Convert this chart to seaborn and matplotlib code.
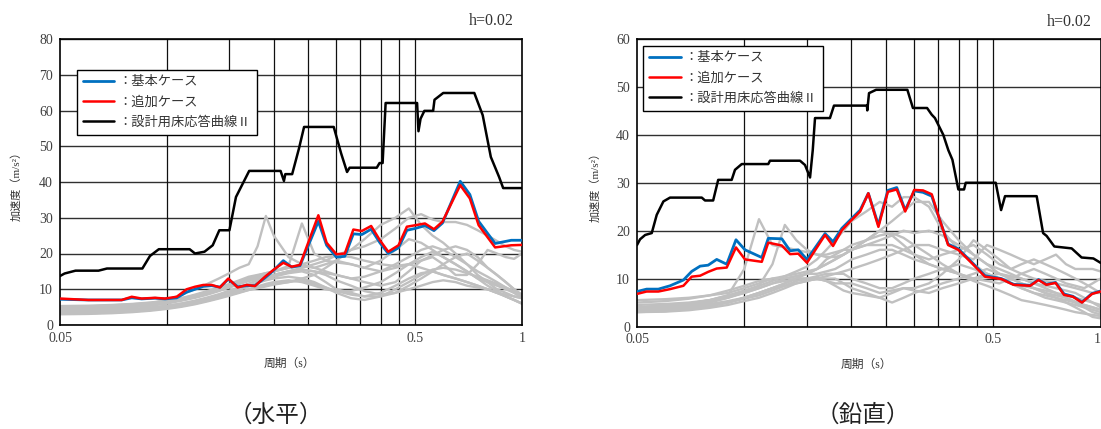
import numpy as np
import pandas as pd
import matplotlib
matplotlib.use("Agg")
import matplotlib.pyplot as plt
from matplotlib.ticker import NullLocator, FixedLocator, FixedFormatter
import seaborn as sns

sns.set_style("white")
plt.rcParams['font.family'] = ['Liberation Serif', 'Noto Sans CJK JP', 'DejaVu Sans']

# ---------------- common ----------------
grid_periods = [0.10, 0.15, 0.20, 0.25, 0.30, 0.35, 0.40, 0.45, 0.50]
x_ticks = [0.05, 0.5, 1.0]
x_tick_labels = ["0.05", "0.5", "1"]
legend_labels = ["：基本ケース", "：追加ケース", "：設計用床応答曲線Ⅱ"]

# period grid for the gray (other) cases
G = [0.05, 0.06, 0.07, 0.08, 0.09, 0.10, 0.11, 0.12, 0.13, 0.14, 0.15, 0.16, 0.17, 0.18, 0.19,
     0.20, 0.22, 0.24, 0.26, 0.28, 0.30, 0.33, 0.36, 0.40, 0.44, 0.48, 0.52, 0.56, 0.60, 0.65,
     0.70, 0.75, 0.80, 0.85, 0.90, 0.95, 1.00]

# ---------------- horizontal (水平) ----------------
h_black_T = [0.05, 0.0515, 0.0553, 0.0642, 0.0678, 0.0853, 0.0896, 0.0949, 0.1159, 0.120, 0.1276,
             0.1346, 0.1405, 0.150, 0.1565, 0.1705, 0.209, 0.2136, 0.2155, 0.2253, 0.2355, 0.2434,
             0.295, 0.3095, 0.3216, 0.327, 0.39, 0.397, 0.405, 0.413, 0.5065, 0.511, 0.518, 0.531,
             0.562, 0.567, 0.60, 0.734, 0.775, 0.817, 0.862, 0.885, 1.0]
h_black_v = [13.7, 14.4, 15.2, 15.2, 15.8, 15.8, 19.3, 21.2, 21.2, 20.0, 20.5,
             22.3, 26.5, 26.5, 35.8, 43.1, 43.1, 40.3, 42.2, 42.2, 49.4, 55.4,
             55.4, 48.0, 42.8, 44.0, 44.0, 45.3, 45.3, 62.1, 62.1, 54.2, 57.7, 59.9,
             59.9, 63.0, 64.9, 64.9, 58.7, 47.0, 41.4, 38.3, 38.3]

h_case_T = [0.05, 0.0601, 0.0746, 0.0796, 0.0849, 0.0926, 0.0988, 0.1066, 0.1137, 0.120, 0.1266,
            0.1337, 0.1411, 0.1489, 0.1582, 0.1678, 0.177, 0.1889, 0.1994, 0.2127, 0.2246, 0.237,
            0.267, 0.2817, 0.30, 0.317, 0.335, 0.354, 0.376, 0.398, 0.42, 0.449, 0.474, 0.5,
            0.533, 0.565, 0.597, 0.67, 0.713, 0.755, 0.84, 0.933, 1.0]
h_red_v = [7.4, 7.0, 7.0, 7.9, 7.4, 7.6, 7.4, 7.9, 10.0, 10.7, 11.2,
           11.2, 10.5, 13.0, 10.5, 11.2, 10.9, 13.5, 15.4, 17.4, 16.3, 16.8,
           30.7, 23.0, 19.8, 20.0, 26.7, 26.3, 27.7, 23.7, 20.5, 22.3, 27.5, 27.9,
           28.4, 26.8, 28.9, 39.1, 35.4, 27.9, 21.7, 22.3, 22.4]
h_blue_v = [7.2, 7.0, 7.0, 7.6, 7.3, 7.5, 7.3, 7.6, 9.2, 10.0, 10.8,
            11.0, 10.6, 12.8, 10.7, 11.0, 11.0, 13.2, 15.2, 18.0, 16.2, 16.6,
            29.0, 22.3, 19.0, 19.2, 25.5, 25.3, 26.8, 23.0, 20.0, 21.6, 26.5, 27.0,
            27.8, 26.4, 28.5, 40.2, 36.5, 29.0, 22.8, 23.7, 23.7]

h_gray = [
    [4.5, 4.7, 5.0, 5.4, 6.0, 7.0, 8.5, 10, 11.5, 13, 14.5, 16, 17, 22, 30.5, 25, 19, 17, 16, 17,
     18, 17, 16, 15, 16, 17, 16, 15, 14, 13, 12, 11, 10, 9, 8.5, 8, 7.5],
    [5.0, 5.2, 5.5, 5.8, 6.2, 6.8, 7.5, 8.5, 9.5, 10.5, 11.5, 12.5, 13.5, 14, 14.5, 15, 16.5, 28.4, 20, 18,
     17.5, 17, 16, 18, 21, 24, 23, 21, 19, 17, 15, 13, 12, 11, 10, 9, 8],
    [3.5, 3.6, 3.8, 4.1, 4.5, 5.0, 5.6, 6.3, 7.0, 7.8, 8.5, 9.2, 9.8, 10.3, 10.8, 11.3, 12, 13, 14, 16,
     18, 21, 24, 28, 30, 32.6, 28, 25, 23, 20, 17, 14, 12, 10, 9, 8, 7.5],
    [4.2, 4.4, 4.7, 5.0, 5.4, 6.0, 6.8, 7.6, 8.5, 9.5, 10.5, 11.5, 12.3, 13, 13.5, 14, 15, 16, 17, 18,
     19.5, 21, 22, 24, 27, 30, 31, 29.5, 28.8, 28.8, 28, 26.5, 25, 23.5, 22, 21, 20.5],
    [4.6, 4.8, 5.1, 5.5, 6.0, 6.6, 7.3, 8.2, 9.2, 10.2, 11, 11.8, 12.5, 13, 13.5, 14, 15, 15.5, 15, 14.5,
     14, 13, 12, 11, 12, 15, 18, 19, 17, 14, 14, 17, 21, 20, 19, 18.5, 20],
    [3.0, 3.1, 3.3, 3.6, 4.0, 4.5, 5.1, 5.8, 6.6, 7.4, 8.2, 9, 9.8, 10.5, 11, 11.5, 12, 12.5, 11.5, 10.5,
     9.5, 8.5, 8, 9, 11, 13, 14.5, 15, 14, 13, 12, 11, 10, 9, 8, 7, 6],
    [5.3, 5.4, 5.6, 5.9, 6.3, 6.8, 7.5, 8.3, 9.2, 10.2, 11.2, 12.2, 13, 13.8, 14.5, 15, 16, 17, 18, 19,
     19.5, 19, 18, 17, 16.5, 17, 18, 19.5, 21, 22, 21, 19, 16, 14, 12, 10, 8.5],
    [4.0, 4.1, 4.3, 4.5, 4.9, 5.4, 6, 6.7, 7.5, 8.4, 9.3, 10.2, 11, 11.8, 12.5, 13, 13.5, 13, 12, 10.5,
     9, 7.5, 7, 8, 10, 12, 14, 15.5, 16, 15.5, 14.5, 13.5, 12.5, 11.5, 10.5, 9.5, 8],
    [3.8, 3.9, 4.1, 4.4, 4.8, 5.3, 6, 6.8, 7.7, 8.6, 9.6, 10.6, 11.6, 12.5, 13.3, 14, 15, 15.5, 15, 14,
     12.5, 11, 9.5, 8.5, 9, 11, 13, 15, 17, 19, 20, 18, 16, 14, 12, 10, 8],
    [3.2, 3.3, 3.5, 3.8, 4.2, 4.7, 5.3, 6, 6.8, 7.6, 8.4, 9.2, 10, 10.8, 11.5, 12, 12.5, 12, 11, 10,
     9.5, 9.5, 10.5, 12, 14.5, 17, 19, 20.5, 19, 17, 15, 13, 11, 9.5, 8, 7, 6],
    [4.8, 5.0, 5.2, 5.5, 5.9, 6.4, 7, 7.8, 8.7, 9.6, 10.6, 11.6, 12.6, 13.5, 14.2, 15, 16, 16.5, 16, 15,
     14, 13, 13.5, 15, 17, 19, 21, 22, 21, 19, 17, 15, 13.5, 12, 10.5, 9, 7.5],
    [3.4, 3.5, 3.7, 4, 4.4, 4.9, 5.5, 6.2, 7, 7.9, 8.8, 9.8, 10.8, 11.8, 12.8, 13.5, 14.5, 15, 14, 12,
     10, 9, 8, 8, 9, 10, 11, 12, 12.5, 12, 11, 10.5, 10, 9, 8, 7, 6],
]

# ---------------- vertical (鉛直) ----------------
v_black_T = [0.05, 0.051, 0.0527, 0.055, 0.0568, 0.0593, 0.0619, 0.076, 0.0776, 0.0818, 0.0845,
             0.0922, 0.0942, 0.0984, 0.1168, 0.1181, 0.1434, 0.1481, 0.153, 0.1557, 0.158, 0.174,
             0.1786, 0.221, 0.2215, 0.224, 0.2345, 0.287, 0.2975, 0.326, 0.336, 0.343, 0.362,
             0.374, 0.384, 0.399, 0.414, 0.4185, 0.508, 0.526, 0.5395, 0.662, 0.69, 0.706,
             0.742, 0.83, 0.885, 0.955, 1.0]
v_black_v = [17.0, 18.2, 19.1, 19.5, 23.3, 26.1, 26.9, 26.9, 26.3, 26.3, 30.6,
             30.6, 32.7, 33.9, 33.9, 34.6, 34.6, 33.7, 31.1, 36.8, 43.5, 43.5,
             46.1, 46.1, 45.1, 48.7, 49.4, 49.4, 45.6, 45.6, 44.2, 43.5, 40.0,
             36.8, 34.8, 28.6, 28.6, 30.0, 30.0, 24.3, 27.2, 27.2, 19.5, 18.9,
             16.7, 16.3, 14.4, 14.2, 13.3]

v_case_T = [0.05, 0.0532, 0.0574, 0.0619, 0.0675, 0.0712, 0.0752, 0.0792, 0.0837, 0.0893, 0.0948,
            0.1005, 0.112, 0.1168, 0.1275, 0.1345, 0.1418, 0.15, 0.1686, 0.1775, 0.188, 0.2,
            0.2115, 0.223, 0.238, 0.253, 0.268, 0.283, 0.3, 0.3175, 0.336, 0.3525, 0.3735,
            0.399, 0.4355, 0.474, 0.527, 0.57, 0.635, 0.67, 0.705, 0.748, 0.79, 0.837,
            0.887, 0.947, 1.0]
v_red_v = [6.8, 7.3, 7.3, 7.8, 8.5, 10.4, 10.6, 11.4, 12.1, 12.3, 16.5,
           14.0, 13.5, 17.5, 16.9, 15.1, 15.2, 13.3, 19.1, 16.8, 20.1, 22.2,
           24.0, 27.8, 20.8, 28.1, 28.6, 24.0, 28.5, 28.4, 27.6, 22.6, 17.0,
           16.0, 13.2, 10.4, 9.9, 8.7, 8.5, 9.7, 8.7, 9.1, 6.6, 6.2,
           5.0, 6.8, 7.3]
v_blue_v = [7.3, 7.8, 7.8, 8.5, 9.7, 11.5, 12.6, 12.8, 14.0, 13.0, 18.1,
            16.0, 14.4, 18.4, 18.3, 15.8, 16.0, 14.0, 19.4, 17.7, 20.5, 22.5,
            24.3, 27.8, 21.2, 28.4, 29.0, 24.3, 28.3, 28.0, 27.2, 22.6, 17.2,
            16.2, 13.4, 10.6, 10.0, 8.8, 8.6, 9.8, 8.8, 9.2, 6.8, 6.3,
            5.1, 6.9, 7.4]

v_gray = [
    [4.0, 4.3, 4.8, 5.5, 6.5, 12, 22.4, 17, 16.5, 16, 15.5, 15, 15, 15.5, 16, 17, 18, 19, 19.5, 18.5,
     17, 15, 13, 11, 9.5, 8.5, 7.5, 6.5, 5.5, 5, 4.5, 4, 3.5, 3, 2.7, 2.4, 2.2],
    [3.5, 3.8, 4.3, 5, 6, 7.2, 8.5, 13, 21.2, 18, 16, 15, 14.5, 14.5, 15, 16, 18, 20, 19, 17,
     15, 13, 12, 11, 10, 10.5, 11, 10.5, 10, 9, 8, 7, 6, 5.2, 4.5, 4, 3.5],
    [4, 4.3, 4.8, 5.5, 6.5, 7.5, 8.5, 9.5, 10.5, 11.5, 12.5, 14, 16, 18, 20, 22, 24, 26, 25, 27,
     27, 25, 20, 16, 13, 11, 10, 9, 8.5, 8, 7.5, 7, 6.5, 6, 5.5, 5, 4.5],
    [3.2, 3.4, 3.8, 4.4, 5, 6, 7, 8, 9, 10, 11, 12, 13, 14, 15, 16, 18, 20, 22, 24,
     26, 26, 22, 18, 15, 13, 11, 10, 9, 8, 7, 6.5, 6, 5, 4, 3, 2.5],
    [5, 5.3, 5.8, 6.5, 7.5, 8.5, 9.5, 10, 10, 10.5, 11, 12, 13, 14, 15, 16, 17, 18, 19, 20,
     19.5, 20, 19, 17, 15, 13, 12, 11, 10, 9, 8.5, 8, 7.5, 7, 6, 5, 4],
    [3, 3.2, 3.6, 4.2, 5, 6, 7, 8, 9, 10, 10, 10, 9.5, 9, 9, 9, 8, 7, 7.5, 8,
     8, 9, 11, 14, 18, 16, 14, 12, 11, 10, 9.5, 9, 8.5, 8, 7.5, 7, 7],
    [4.5, 4.7, 5, 5.5, 6.2, 7, 8, 9, 9.5, 10, 10, 10.5, 11, 11, 11.5, 12, 13, 14, 15, 16,
     17, 17, 16, 15, 14, 17, 16, 15, 14, 13, 14, 15, 13, 12, 12, 12, 11.5],
    [3.5, 3.7, 4, 4.5, 5, 5.8, 6.5, 7.5, 8.5, 9.5, 10, 10, 9.5, 8.5, 7.5, 7, 6.5, 6, 7, 8,
     7.5, 7, 8, 9, 10, 11, 10, 9, 8, 7, 6.5, 6, 5.5, 5, 4.5, 4, 3.5],
    [4, 4.2, 4.6, 5.2, 6, 7, 8, 9, 10, 10.5, 11, 11, 11.5, 12, 13, 14, 15, 16, 16, 15,
     14, 13, 12, 11, 10, 9.5, 9, 10, 11, 12, 11, 10, 9, 8.5, 8, 9, 10],
    [3, 3.1, 3.4, 3.9, 4.5, 5.3, 6, 7, 8, 9, 9.5, 10, 10, 10, 9, 8, 7, 6, 5, 6,
     7, 8, 9, 10, 11, 12, 11, 10, 9, 8, 7, 6, 5, 4, 3, 2, 1.7],
    [4, 4.1, 4.3, 4.7, 5.3, 6, 7, 8, 8.5, 9, 9.5, 10, 10.5, 11, 11, 10, 9, 8, 8, 9,
     10, 11, 12, 13, 12, 11, 10, 9, 8, 7, 6, 5.5, 5, 4.5, 4, 3.5, 3],
    [5.5, 5.7, 6, 6.5, 7, 8, 9, 10, 10.5, 11, 11.5, 12, 14, 15, 16, 16, 17, 17, 17, 16,
     15, 14, 15, 16, 17, 15, 13, 12, 13, 14, 13, 12, 11, 10, 9, 8, 7],
]

BLUE = "#0070c0"
RED = "#ff0000"
GRAY = "#c0c0c0"

fig = plt.figure(figsize=(11.01, 4.29), dpi=100)


def gray_frame(series):
    rows = []
    for i, s in enumerate(series):
        for t, v in zip(G, s):
            rows.append((i, t, v))
    return pd.DataFrame(rows, columns=["case", "T", "v"])


def draw(ax, gray, bT, bv, cT, blue, red, ymax):
    sns.lineplot(data=gray_frame(gray), x="T", y="v", units="case", estimator=None,
                 color=GRAY, lw=1.7, ax=ax, zorder=2, legend=False)
    sns.lineplot(x=bT, y=bv, color="black", lw=1.8, ax=ax, zorder=3, estimator=None)
    sns.lineplot(x=cT, y=blue, color=BLUE, lw=2.0, ax=ax, zorder=4, estimator=None)
    sns.lineplot(x=cT, y=red, color=RED, lw=1.8, ax=ax, zorder=5, estimator=None)
    lines = ax.get_lines()
    l_black, l_blue, l_red = lines[-3], lines[-2], lines[-1]
    ax.set_xscale("log")
    ax.set_xlim(0.05, 1.0)
    ax.set_ylim(0, ymax)
    ax.xaxis.set_major_locator(FixedLocator(x_ticks))
    ax.xaxis.set_major_formatter(FixedFormatter(x_tick_labels))
    ax.xaxis.set_minor_locator(NullLocator())
    ax.set_yticks(list(range(0, ymax + 1, 10)))
    ax.grid(axis="y", color="#303030", lw=1.0, zorder=1)
    for g in grid_periods:
        ax.axvline(g, color="#101010", lw=0.9, zorder=1)
    ax.set_axisbelow(True)
    ax.tick_params(axis="both", length=0, labelsize=10, colors="#404040", pad=5)
    for sp in ax.spines.values():
        sp.set_color("black")
        sp.set_linewidth(1.2)
        sp.set_visible(True)
    ax.set_xlabel("")
    ax.set_ylabel("")
    return l_blue, l_red, l_black


axL = fig.add_axes([60 / 1101, 1 - 325 / 429, 462 / 1101, 286 / 429])
axR = fig.add_axes([637 / 1101, 1 - 326.5 / 429, 463.5 / 1101, 287.5 / 429])

hL = draw(axL, h_gray, h_black_T, h_black_v, h_case_T, h_blue_v, h_red_v, 80)
hR = draw(axR, v_gray, v_black_T, v_black_v, v_case_T, v_blue_v, v_red_v, 60)

# keep the "1" of the right chart inside the picture
axR.get_xticklabels()[-1].set_horizontalalignment("right")

for ax, handles, anchor in [(axL, hL, (76.7 / 1101, 1 - 70 / 429)),
                            (axR, hR, (643 / 1101, 1 - 46 / 429))]:
    leg = ax.legend(handles, legend_labels, loc="upper left", bbox_to_anchor=anchor,
                    bbox_transform=fig.transFigure, fontsize=9.5, frameon=True,
                    fancybox=False, framealpha=1, edgecolor="black", handlelength=2.4,
                    handletextpad=0.3, labelspacing=0.6, borderpad=0.45, borderaxespad=0)
    leg.get_frame().set_linewidth(1.0)
    for t in leg.get_texts():
        t.set_color("#333333")
    leg.set_zorder(10)

# annotations
fig.text(514 / 1101, 1 - 21 / 429, "h=0.02", ha="right", va="center", fontsize=11.5, color="#333333")
fig.text(1092 / 1101, 1 - 22 / 429, "h=0.02", ha="right", va="center", fontsize=11.5, color="#333333")

fig.text(16.5 / 1101, 1 - 183 / 429, "加速度（m/s²）", rotation=90, ha="center", va="center",
         fontsize=8, color="#333333")
fig.text(595.5 / 1101, 1 - 184 / 429, "加速度（m/s²）", rotation=90, ha="center", va="center",
         fontsize=8, color="#333333")

fig.text(289 / 1101, 1 - 364 / 429, "周期（s）", ha="center", va="center", fontsize=8.5, color="#333333")
fig.text(866 / 1101, 1 - 365 / 429, "周期（s）", ha="center", va="center", fontsize=8.5, color="#333333")

fig.text(276 / 1101, 1 - 415 / 429, "（水平）", ha="center", va="center", fontsize=17, color="#222222")
fig.text(863 / 1101, 1 - 415 / 429, "（鉛直）", ha="center", va="center", fontsize=17, color="#222222")

fig.savefig("out.png", dpi=100, facecolor="white")
